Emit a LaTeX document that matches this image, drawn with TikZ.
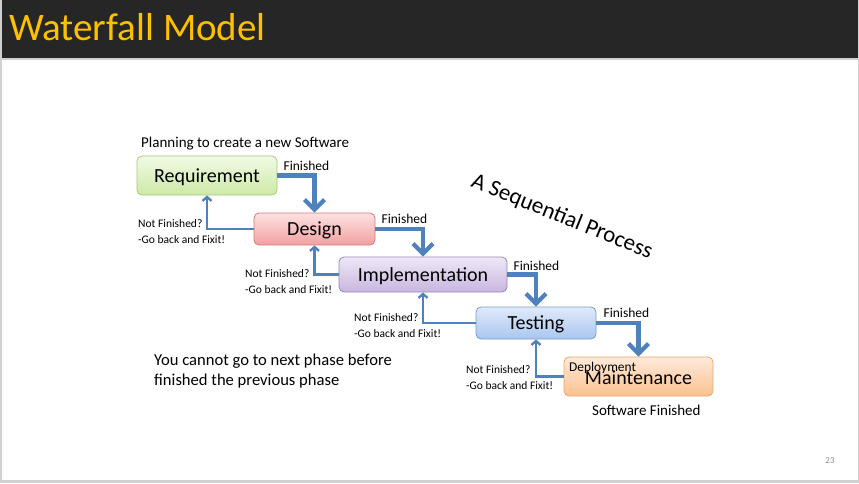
\documentclass[tikz,border=0pt]{standalone}
\usepackage{fontspec}
\setmainfont{Carlito}
\usetikzlibrary{arrows.meta,calc}

\definecolor{barbg}{HTML}{262626}
\definecolor{titlecol}{HTML}{FFC000}
\definecolor{edgegray}{HTML}{D0D0D0}
\definecolor{flowblue}{HTML}{4F81BD}
\definecolor{pagenum}{HTML}{8C8C8C}
% phase fills (top / bottom) and outlines
\definecolor{reqtop}{HTML}{F2FAE6}\definecolor{reqbot}{HTML}{CDE9A6}\definecolor{reqline}{HTML}{A8C87E}
\definecolor{destop}{HTML}{FDE2E2}\definecolor{desbot}{HTML}{F2A0A0}\definecolor{desline}{HTML}{D07C7A}
\definecolor{imptop}{HTML}{EEE8F6}\definecolor{impbot}{HTML}{C8B6E0}\definecolor{impline}{HTML}{9A86B8}
\definecolor{testop}{HTML}{E0EAFA}\definecolor{tesbot}{HTML}{A9C6F0}\definecolor{tesline}{HTML}{7A9CCB}
\definecolor{mnttop}{HTML}{FEEADB}\definecolor{mntbot}{HTML}{FBC18E}\definecolor{mntline}{HTML}{E8A870}

\tikzset{
  fsz/.style={font=\fontsize{#1}{#1}\selectfont},
  phase/.style={draw, line width=0.8pt, rounded corners=5pt, inner sep=0pt,
    text depth=0pt, font=\fontsize{20}{20}\selectfont, text=black},
  reqbox/.style={phase, draw=reqline, top color=reqtop, bottom color=reqbot},
  desbox/.style={phase, draw=desline, top color=destop, bottom color=desbot},
  impbox/.style={phase, draw=impline, top color=imptop, bottom color=impbot},
  tesbox/.style={phase, draw=tesline, top color=testop, bottom color=tesbot},
  mntbox/.style={phase, draw=mntline, top color=mnttop, bottom color=mntbot},
  fin/.style={draw=flowblue, line width=4.2pt,
    -{Straight Barb[length=10pt,width=20pt]}},
  back/.style={draw=flowblue, line width=2.3pt,
    -{Straight Barb[length=4pt,width=9pt]}},
  finlabel/.style={fsz=13.5, anchor=base west, inner sep=0pt},
  notfin/.style={font=\fontsize{11.5}{15.5}\selectfont, align=left, anchor=north west, inner sep=0pt},
}

\begin{document}
\begin{tikzpicture}[x=1pt,y=-1pt]
\useasboundingbox (0,0) rectangle (859,483);

% slide frame, title bar and page
\fill[edgegray] (0,0) rectangle (859,483);
\fill[white] (2,60) rectangle (858,480);
\fill[barbg] (2,0) rectangle (858,58);
\node[anchor=base west, inner sep=0pt, text=titlecol, fsz=39] (title) at (9,40) {Waterfall Model};
\node[text=pagenum, fsz=9, inner sep=0pt] (page) at (830,461) {23};

% phases
\node[reqbox, minimum width=140pt, minimum height=39pt] (req) at (207,175.5) {Requirement};
\node[desbox, minimum width=121pt, minimum height=32pt] (des) at (314.5,229) {Design};
\node[impbox, minimum width=168pt, minimum height=35pt] (imp) at (423,274.5) {Implementation};
\node[tesbox, minimum width=120pt, minimum height=32pt] (tes) at (536,323) {Testing};
\node[mntbox, minimum width=149pt, minimum height=39pt] (mnt) at (638.5,376.5) {\raisebox{-1.5pt}{Maintenance}};

% forward flow
\draw[fin] (req.east) -| (des.north);
\draw[fin] (des.east) -| (imp.north);
\draw[fin] (imp.east) -| (tes.north);
\draw[fin] (tes.east) -| (mnt.north);

% going back
\draw[back] (des.west) -| (req.south);
\draw[back] (imp.west) -| (des.south);
\draw[back] (tes.west) -| (imp.south);
\draw[back] (mnt.west) -| (tes.south);

% labels
\node[finlabel] (f1) at ($(req.east)+(6,-5.5)$) {Finished};
\node[finlabel] (f2) at ($(des.east)+(6,-5.5)$) {Finished};
\node[finlabel] (f3) at ($(imp.east)+(6,-4.5)$) {Finished};
\node[finlabel] (f4) at ($(tes.east)+(7,-5.5)$) {Finished};

\node[notfin] (n1) at (138,219.5) {Not Finished?\\-Go back and Fixit!};
\node[notfin] (n2) at (245,269.5) {Not Finished?\\-Go back and Fixit!};
\node[notfin] (n3) at (354,313.5) {Not Finished?\\-Go back and Fixit!};
\node[notfin] (n4) at (466,365.5) {Not Finished?\\-Go back and Fixit!};

\node[fsz=15, anchor=base west, inner sep=0pt] (plan) at (141,147.5) {Planning to create a new Software};
\node[fsz=13.4, anchor=base west, inner sep=0pt] (dep) at (569,371) {Deployment};
\node[fsz=15, anchor=base west, inner sep=0pt] (done) at (592,415.5) {Software Finished};
\node[font=\fontsize{16.6}{20}\selectfont, align=left, anchor=north west, inner sep=0pt] (rule) at (154,353.5) {You cannot go to next phase before\\finished the previous phase};
\node[fsz=23, rotate=-22, inner sep=0pt] (seq) at (562,217) {A Sequential Process};
\end{tikzpicture}
\end{document}
